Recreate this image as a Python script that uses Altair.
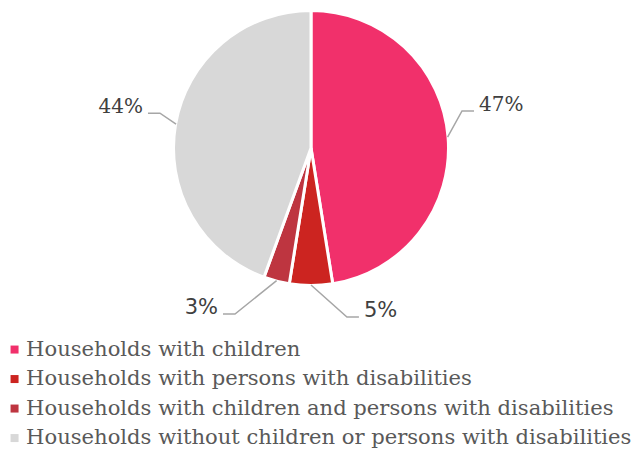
import math
import altair as alt
import pandas as pd

# ---- data ----
categories = [
    "Households with children",
    "Households with persons with disabilities",
    "Households with children and persons with disabilities",
    "Households without children or persons with disabilities",
]
values = [47, 5, 3, 44]
labels = ["47%", "5%", "3%", "44%"]

# ---- style / layout ----
colors = ["#F1306B", "#CC2420", "#BE3540", "#D8D8D8"]
W, H = 606, 280
CX, CY = W / 2, H / 2
R = 137.5
R_START = 137
# elbow of each leader line (angle deg clockwise from top, radius px)
elbow_polar = [(76.2, 155.5), (168.0, 172.8), (204.6, 182.6), (283.0, 155.0)]
sides = [1, 1, -1, -1]  # +1 label to the right, -1 to the left
HSEG = 12
GAP = 5
label_fonts = ["DejaVu Serif", "DejaVu Sans", "DejaVu Sans", "DejaVu Serif"]
label_sizes = [20, 21, 21, 20]

df = pd.DataFrame({"category": categories, "value": values, "idx": range(len(values))})

total = sum(values)
cum = 0
line_rows = []
text_rows = []
for i, v in enumerate(values):
    mid = math.radians((cum + v / 2) / total * 360)
    cum += v
    sx, sy = CX + R_START * math.sin(mid), CY - R_START * math.cos(mid)
    ea, er = elbow_polar[i]
    ea = math.radians(ea)
    ex, ey = CX + er * math.sin(ea), CY - er * math.cos(ea)
    fx, fy = ex + sides[i] * HSEG, ey
    for k, (px, py) in enumerate([(sx, sy), (ex, ey), (fx, fy)]):
        line_rows.append({"label": labels[i], "seq": k, "x": px, "y": py})
    text_rows.append({"label": labels[i], "x": fx + sides[i] * GAP, "y": fy})

lines_df = pd.DataFrame(line_rows)
text_df = pd.DataFrame(text_rows)

xs = alt.Scale(domain=[0, W])
ys = alt.Scale(domain=[0, H], reverse=True)

pie = alt.Chart(df).mark_arc(outerRadius=R, stroke="white", strokeWidth=3).encode(
    theta=alt.Theta("value:Q", stack=True),
    color=alt.Color(
        "category:N",
        scale=alt.Scale(domain=categories, range=colors),
        sort=categories,
        legend=alt.Legend(
            orient="none",
            legendX=-4,
            legendY=331,
            title=None,
            symbolType="square",
            symbolSize=64,
            symbolStrokeWidth=0,
            labelFont="DejaVu Serif",
            labelFontSize=21.1,
            labelColor="#595959",
            labelLimit=0,
            rowPadding=7.5,
            labelOffset=1,
        ),
    ),
    order=alt.Order("idx:Q"),
)

leaders = alt.Chart(lines_df).mark_line(color="#A6A6A6", strokeWidth=1.5).encode(
    x=alt.X("x:Q", scale=xs, axis=None),
    y=alt.Y("y:Q", scale=ys, axis=None),
    detail="label:N",
    order="seq:Q",
)

text_layers = []
for i, lab in enumerate(labels):
    t = alt.Chart(text_df).transform_filter(alt.datum.label == lab).mark_text(
        align="left" if sides[i] > 0 else "right",
        baseline="alphabetic",
        font=label_fonts[i],
        fontSize=label_sizes[i],
        color="#404040",
    ).encode(
        x=alt.X("x:Q", scale=xs, axis=None),
        y=alt.Y("y:Q", scale=ys, axis=None),
        text="label:N",
    )
    text_layers.append(t)

chart = alt.layer(pie, leaders, *text_layers).properties(
    width=W,
    height=H,
    padding={"left": 0, "top": 0, "right": 21, "bottom": 163},
    autosize=alt.AutoSizeParams(type="none"),
).configure_view(stroke=None)

chart.save("out.html", embed_options={"renderer": "svg", "actions": False})
